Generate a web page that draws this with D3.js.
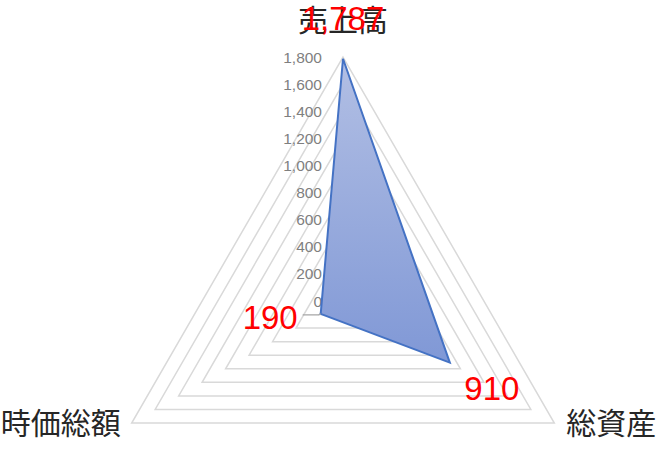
<!DOCTYPE html>
<html><head><meta charset="utf-8">
<script src="https://cdn.jsdelivr.net/npm/d3@7"></script>
<style>html,body{margin:0;padding:0;background:#fff;overflow:hidden}</style>
</head><body>
<svg id="c" width="667" height="451"></svg>
<script>
const categories = ["売上高", "総資産", "時価総額"];
const values = [1787, 910, 190];
const ticks = [0, 200, 400, 600, 800, 1000, 1200, 1400, 1600, 1800];

const svg = d3.select("#c");
const cx = 343, cy = 301, R = 244;
const r = d3.scaleLinear().domain([0, 1800]).range([0, R]);
const ang = d3.scalePoint().domain(categories).range([0, 360]).padding(0);
// angle in degrees clockwise from top; 3 categories at 0,120,240
const angleOf = (c) => categories.indexOf(c) * 120 - 90;
const pt = (c, v) => {
  const a = angleOf(c) * Math.PI / 180;
  return [cx + r(v) * Math.cos(a), cy + r(v) * Math.sin(a)];
};

// gradient
const defs = svg.append("defs");
const g = defs.append("linearGradient").attr("id", "fillg").attr("x1", 0).attr("y1", 0).attr("x2", 0).attr("y2", 1);
g.append("stop").attr("offset", "0%").attr("stop-color", "#b2bfe4");
g.append("stop").attr("offset", "100%").attr("stop-color", "#8098d6");

// grid rings
ticks.filter(t => t > 0).forEach(t => {
  svg.append("polygon")
    .attr("points", categories.map(c => pt(c, t).join(",")).join(" "))
    .attr("fill", "none").attr("stroke", "#d9d9d9").attr("stroke-width", 1.5);
});

// tick labels
svg.selectAll("text.tick").data(ticks).enter().append("text")
  .attr("class", "tick")
  .attr("x", cx - 21)
  .attr("y", d => cy - r(d))
  .attr("text-anchor", "end").attr("dominant-baseline", "central")
  .attr("font-family", "Liberation Sans, Arial, sans-serif").attr("font-size", 15.5)
  .attr("fill", "#7f7f7f")
  .text(d => d3.format(",")(d));

// data polygon
const line = d3.line().curve(d3.curveLinearClosed);
const pts = categories.map((c, i) => pt(c, values[i]));
svg.append("path").attr("d", line(pts))
  .attr("fill", "url(#fillg)").attr("stroke", "#4472c4").attr("stroke-width", 2).attr("stroke-linejoin", "miter");

// category labels
const catFont = "Noto Sans CJK JP, sans-serif";
const outer = categories.map(c => pt(c, 1800));
svg.append("text").attr("x", outer[0][0]).attr("y", 18)
  .attr("text-anchor", "middle").attr("dominant-baseline", "central")
  .attr("font-family", catFont).attr("font-size", 30).attr("fill", "#262626").text(categories[0]);
svg.append("text").attr("x", outer[1][0] + 12).attr("y", outer[1][1] - 2)
  .attr("text-anchor", "start").attr("dominant-baseline", "central")
  .attr("font-family", catFont).attr("font-size", 30).attr("fill", "#262626").text(categories[1]);
svg.append("text").attr("x", outer[2][0] - 11).attr("y", outer[2][1] - 2)
  .attr("text-anchor", "end").attr("dominant-baseline", "central")
  .attr("font-family", catFont).attr("font-size", 30).attr("fill", "#262626").text(categories[2]);

// leader line for 190 label
svg.append("polyline")
  .attr("points", [[pts[2][0] - 18, pts[2][1] + 1], [pts[2][0] - 2, pts[2][1] + 1], pts[2]].map(p => p.join(",")).join(" "))
  .attr("fill", "none").attr("stroke", "#a6a6a6").attr("stroke-width", 1.2);

// data labels
const lblFont = "Liberation Sans, Arial, sans-serif";
const offs = [[0, -40, "middle"], [42, 26, "middle"], [-23, 4, "end"]];
values.forEach((v, i) => {
  svg.append("text")
    .attr("x", pts[i][0] + offs[i][0]).attr("y", pts[i][1] + offs[i][1])
    .attr("text-anchor", offs[i][2]).attr("dominant-baseline", "central")
    .attr("font-family", lblFont).attr("font-size", 33).attr("fill", "#ff0000")
    .text(d3.format(",")(v));
});
</script>
</body></html>
